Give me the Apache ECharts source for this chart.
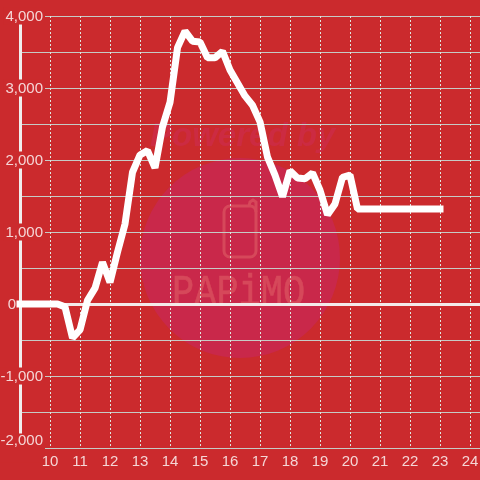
<!DOCTYPE html>
<html>
<head>
<meta charset="utf-8">
<style>
  html, body { margin: 0; padding: 0; background: #cb2a2d; }
  #chart { width: 480px; height: 480px; }
</style>
<script src="https://cdn.jsdelivr.net/npm/echarts@6/dist/echarts.min.js"></script>
</head>
<body>
<div id="chart"></div>
<script>
var hours = [
  9, 9.25, 9.5, 9.75, 10, 10.25, 10.5, 10.75, 11, 11.25, 11.5, 11.75,
  12, 12.25, 12.5, 12.75, 13, 13.25, 13.5, 13.75, 14, 14.25, 14.5, 14.75,
  15, 15.25, 15.5, 15.75, 16, 16.25, 16.5, 16.75, 17, 17.25, 17.5, 17.75,
  18, 18.25, 18.5, 18.75, 19, 19.25, 19.5, 19.75, 20, 20.25, 20.5, 20.75,
  21, 21.25, 21.5, 21.75, 22, 22.25, 22.5, 22.75, 23
];
var values = [
  0, 0, 0, 0, 0, 0, -40, -470, -360, 50, 220, 580,
  300, 720, 1110, 1830, 2070, 2130, 1890, 2460, 2800, 3560, 3790, 3650,
  3640, 3420, 3420, 3510, 3250, 3070, 2890, 2760, 2530, 2040, 1790, 1490,
  1850, 1750, 1740, 1820, 1580, 1240, 1390, 1760, 1790, 1320, 1320, 1320,
  1320, 1320, 1320, 1320, 1320, 1320, 1320, 1320, 1320
];

var red = "#cb2a2d";
var labelColor = "#f5d6d6";
var markColor = "#d6485a";

var myChart = echarts.init(document.getElementById("chart"));
myChart.setOption({
  animation: false,
  backgroundColor: red,
  textStyle: { fontFamily: "Liberation Sans" },
  // the axis runs to 25, past the right edge of the page
  grid: { left: 20, right: -20, top: 16, bottom: 32, outerBoundsMode: "none" },
  graphic: [
    // watermark behind the grid
    { type: "circle", z: -1, shape: { cx: 240, cy: 258, r: 100 }, style: { fill: "#c9284a" } },
    {
      type: "text", z: -1, x: 150, y: 120,
      style: { text: "Powered by", fill: "#cc2b42", font: "italic bold 33px 'Liberation Sans'" }
    },
    {
      type: "rect", z: -1,
      shape: { x: 224, y: 206, width: 32, height: 51, r: 6 },
      style: { fill: "none", stroke: markColor, lineWidth: 3 }
    },
    {
      type: "polyline", z: -1,
      shape: { points: [[249, 206], [250, 202], [253, 200], [256, 202], [256, 212]] },
      style: { fill: "none", stroke: markColor, lineWidth: 3 }
    },
    {
      type: "text", z: -1, x: 172, y: 271, scaleY: 1.2,
      style: { text: "PAPiMO", fill: markColor, stroke: markColor, lineWidth: 0.5, font: "37px 'Liberation Mono'" }
    }
  ],
  xAxis: {
    type: "value",
    min: 9,
    max: 25,
    interval: 1,
    axisLine: { show: false },
    axisTick: { show: false },
    axisLabel: {
      showMinLabel: false,
      showMaxLabel: false,
      color: labelColor,
      fontSize: 15,
      margin: 6
    },
    splitLine: {
      show: true,
      lineStyle: { color: "#dfe6df", width: 1, type: [2, 2] }
    }
  },
  yAxis: {
    type: "value",
    min: -2000,
    max: 4000,
    interval: 500,
    axisLine: { show: true, onZero: false, lineStyle: { color: "#f0eeee", width: 3 } },
    axisTick: { show: false },
    axisLabel: {
      margin: -25,
      formatter: function (v) {
        if (v === 0) return "{zero|0}";
        if (v === -2000) return "{low|-2,000}";
        return v % 1000 === 0 ? "{num|" + v.toLocaleString("en-US") + "}" : "";
      },
      rich: {
        num: { color: labelColor, fontSize: 15, backgroundColor: red, padding: [2, 2, 0, 2] },
        zero: { color: labelColor, fontSize: 15, padding: [2, 29, 0, 0] },
        // bottom label sits above its tick but still hides the grid line behind it
        low: { color: labelColor, fontSize: 15, backgroundColor: red, padding: [0, 2, 14, 2] }
      }
    },
    splitLine: {
      show: true,
      lineStyle: { color: "#c6cbc6", width: 1 }
    }
  },
  series: [
    {
      type: "line",
      data: hours.map(function (h, i) { return [h, values[i]]; }),
      showSymbol: false,
      lineStyle: { color: "#ffffff", width: 7, cap: "square", join: "bevel" },
      markLine: {
        silent: true,
        symbol: "none",
        label: { show: false },
        lineStyle: { color: "#f3eaea", width: 3, type: "solid" },
        data: [{ yAxis: 0 }]
      },
      z: 5
    }
  ]
});
</script>
</body>
</html>
